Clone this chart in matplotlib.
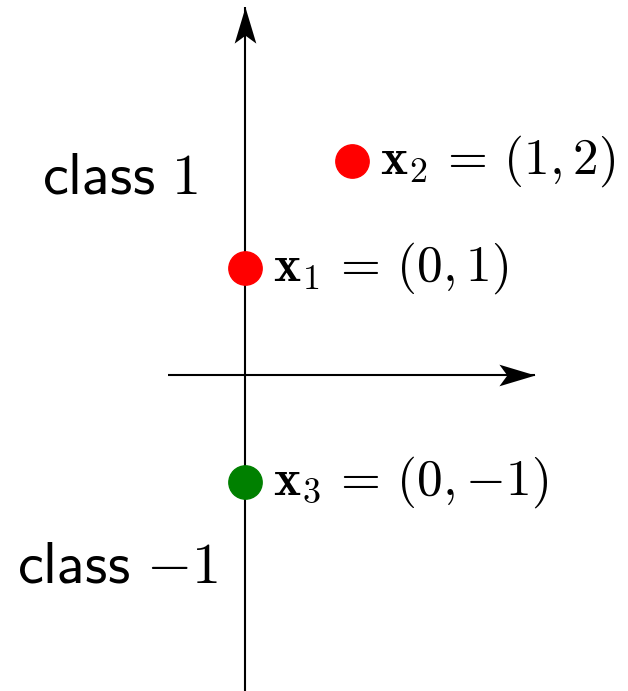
import numpy as np
import matplotlib.pyplot as plt
from matplotlib.path import Path
from matplotlib.transforms import Affine2D

plt.rcParams['mathtext.fontset'] = 'cm'

# points and their classes
px = [0, 1, 0]
py = [1, 2, -1]
colors = ['red', 'red', 'green']
labels = [r'$\mathbf{x}_1\,=\,(0,1)$', r'$\mathbf{x}_2\,=\,(1,2)$', r'$\mathbf{x}_3\,=\,(0,{-}1)$']
class_labels = [r'$\mathsf{class}\ 1$', r'$\mathsf{class}\ {-}1$']
class_pos = [(-1.17, 1.85), (-1.19, -1.78)]

x_axis = (-0.72, 2.71)
y_axis = (-3.0, 3.43)

fig = plt.figure(figsize=(6.28, 6.91), dpi=100)
ax = fig.add_axes([0, 0, 1, 1])
ax.set_xlim(-2.29, 3.58)
ax.set_ylim(-2.95, 3.50)
ax.axis('off')

# stealth-like arrow head (tip at origin, pointing up)
stealth = Path([(0, 0), (-0.3, -1), (0, -0.78), (0.3, -1), (0, 0)],
               [Path.MOVETO, Path.LINETO, Path.LINETO, Path.LINETO, Path.CLOSEPOLY])
stealth_right = stealth.transformed(Affine2D().rotate_deg(-90))

ax.plot(x_axis, [0, 0], color='black', lw=1.5, solid_capstyle='butt')
ax.plot([0, 0], y_axis, color='black', lw=1.5, solid_capstyle='butt')
ax.plot(x_axis[1], 0, marker=stealth_right, markersize=52, color='black', mew=0)
ax.plot(0, y_axis[1], marker=stealth, markersize=52, color='black', mew=0)

for x, y, c, lab in zip(px, py, colors, labels):
    ax.plot(x, y, 'o', color=c, markersize=24, zorder=5)
    ax.annotate(lab, xy=(x, y), xytext=(20, 0), textcoords='offset points',
                fontsize=37, va='center', ha='left')

for lab, (x, y) in zip(class_labels, class_pos):
    ax.text(x, y, lab, fontsize=42, ha='center', va='center')

fig.savefig('out.png', dpi=100)
